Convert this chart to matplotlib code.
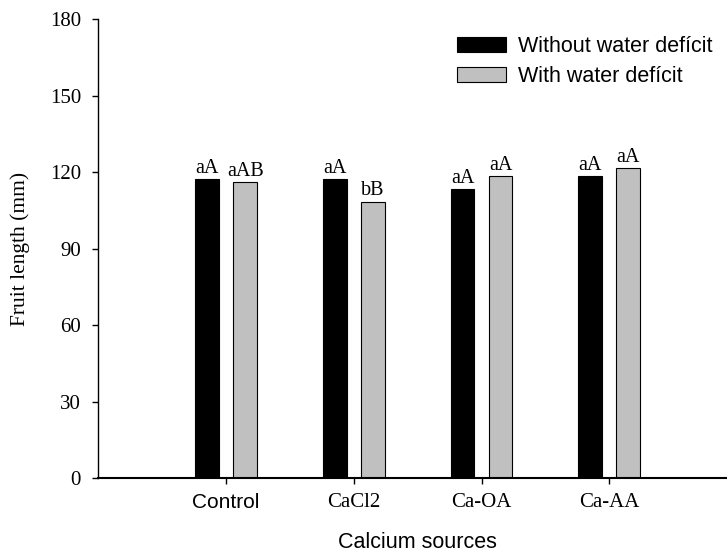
import numpy as np
import matplotlib
matplotlib.use("Agg")
import matplotlib.pyplot as plt

# podatki odčitani s slike
sources = ["Control", "CaCl2", "Ca-OA", "Ca-AA"]
without_deficit = [117.2, 117.3, 113.5, 118.6]
with_deficit = [116.0, 108.5, 118.6, 121.6]
letters_without = ["aA", "aA", "aA", "aA"]
letters_with = ["aAB", "bB", "aA", "aA"]

serif = "Liberation Serif"
sans = "Liberation Sans"

fig = plt.figure(figsize=(7.27, 5.54), dpi=100)
ax = fig.add_axes([98.4 / 727, 1 - 478 / 554, (737 - 98.4) / 727, (478 - 19.3) / 554])

x = np.arange(1, len(sources) + 1)
w = 0.185
off = 0.149
ax.bar(x - off, without_deficit, w, color="black", edgecolor="black", linewidth=0.8,
       label="Without water defícit")
ax.bar(x + off, with_deficit, w, color="#c0c0c0", edgecolor="black", linewidth=0.8,
       label="With water defícit")

# črke nad stolpci
for xs, vals, labs in [(x - off, without_deficit, letters_without), (x + off, with_deficit, letters_with)]:
    for xi, v, t in zip(xs, vals, labs):
        ax.annotate(t, (xi, v), xytext=(0, 4.5), textcoords="offset points",
                    ha="center", va="baseline", fontsize=14.5, family=serif)

ax.set_xlim(0, 5)
ax.set_ylim(0, 180)
ax.set_yticks(np.arange(0, 181, 30))
ax.set_xticks(x)
ax.set_xticklabels(sources)
for lab in ax.get_xticklabels():
    lab.set_fontsize(15)
    lab.set_family(sans if lab.get_text() == "Control" else serif)
for lab in ax.get_yticklabels():
    lab.set_fontsize(15)
    lab.set_family(serif)

ax.tick_params(axis="both", direction="out", length=4.5, width=1.0, color="black")
ax.tick_params(axis="y", pad=8)
ax.tick_params(axis="x", pad=6)

ax.spines["top"].set_visible(False)
ax.spines["right"].set_visible(False)
ax.spines["left"].set_linewidth(1.0)
ax.spines["bottom"].set_linewidth(1.5)

ax.set_ylabel("Fruit length (mm)", fontsize=15.5, family=serif, labelpad=14)
ax.set_xlabel("Calcium sources", fontsize=15.5, family=sans, labelpad=15)

ax.legend(loc="upper left", bbox_to_anchor=(457 / 727, 1 - 36 / 554), bbox_transform=fig.transFigure,
          frameon=False, borderpad=0, borderaxespad=0, handlelength=2.28, handleheight=0.68,
          handletextpad=0.55, labelspacing=0.42, prop={"family": sans, "size": 15.5})

plt.savefig("out.png", dpi=100)
